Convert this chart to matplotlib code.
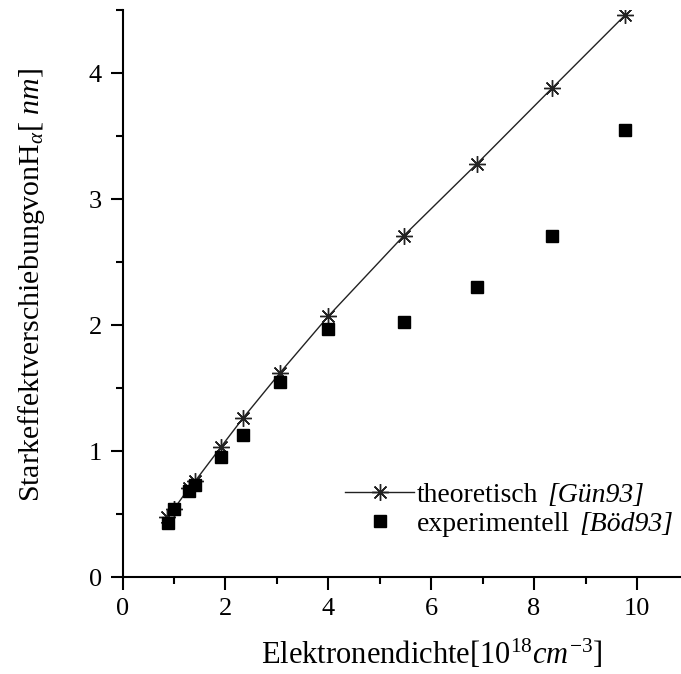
import matplotlib
matplotlib.use("Agg")
import matplotlib.pyplot as plt
from matplotlib.ticker import MultipleLocator

plt.rcParams['font.family'] = ['Liberation Serif', 'DejaVu Serif']
plt.rcParams['mathtext.fontset'] = 'custom'
plt.rcParams['mathtext.rm'] = 'Liberation Serif'
plt.rcParams['mathtext.it'] = 'Liberation Serif:italic'
plt.rcParams['mathtext.bf'] = 'Liberation Serif:bold'

# data
x_theo = [0.87, 1.0, 1.30, 1.41, 1.91, 2.34, 3.06, 4.0, 5.47, 6.89, 8.35, 9.77]
y_theo = [0.48, 0.54, 0.71, 0.76, 1.03, 1.26, 1.62, 2.07, 2.71, 3.28, 3.88, 4.46]
x_exp = [0.88, 1.0, 1.30, 1.41, 1.91, 2.34, 3.06, 4.0, 5.47, 6.89, 8.35, 9.77]
y_exp = [0.43, 0.54, 0.68, 0.73, 0.95, 1.13, 1.55, 1.97, 2.02, 2.30, 2.71, 3.55]
labels = ['theoretisch', 'experimentell']
refs = ['[Gün93]', '[Böd93]']

fig = plt.figure(figsize=(6.81, 6.74), dpi=100)
ax = fig.add_axes([122.5/681, 1-577/674, (681-122.5)/681, (577-10)/674])

ax.plot(x_theo, y_theo, color='#222222', lw=1.0, marker=(8, 2, 0), markersize=12,
        markeredgecolor='#222222', markeredgewidth=1.0, label=labels[0])
ax.plot(x_exp, y_exp, ls='none', marker='s', markersize=9, color='black',
        label=labels[1])

ax.set_xlim(0, (681-122.5)/51.45)
ax.set_ylim(0, 4.5)
ax.xaxis.set_major_locator(MultipleLocator(2))
ax.xaxis.set_minor_locator(MultipleLocator(1))
ax.yaxis.set_major_locator(MultipleLocator(1))
ax.yaxis.set_minor_locator(MultipleLocator(0.5))
ax.tick_params(which='major', direction='out', length=9, width=1.5, labelsize=19, pad=6)
ax.tick_params(which='minor', direction='out', length=5, width=1.5)
for s in ['top', 'right']:
    ax.spines[s].set_visible(False)
for s in ['left', 'bottom']:
    ax.spines[s].set_linewidth(1.5)

ax.set_xlabel(r'Elektronendichte[10$^{18}$$\it{cm}^{-3}$]', fontsize=22)
ax.xaxis.set_label_coords((432-122.5)/558.5, -0.108)
ax.set_ylabel(r'StarkeffektverschiebungvonH$_{\alpha}$[ $\it{nm}$]', fontsize=21.5)
ax.yaxis.set_label_coords(-0.135, 0.515)

leg = ax.legend(loc='center left', bbox_to_anchor=(0.398, 0.119), frameon=False, fontsize=20,
                handlelength=2.5, handletextpad=0.1, borderaxespad=0, borderpad=0,
                labelspacing=0.12)

fig.canvas.draw()
for t, r in zip(leg.get_texts(), refs):
    bb = t.get_window_extent()
    fig.text(bb.x1 + 9, bb.y0 + bb.height/2, r, fontsize=20, fontstyle='italic',
             ha='left', va='center', transform=None)

fig.savefig('out.png', dpi=100)
